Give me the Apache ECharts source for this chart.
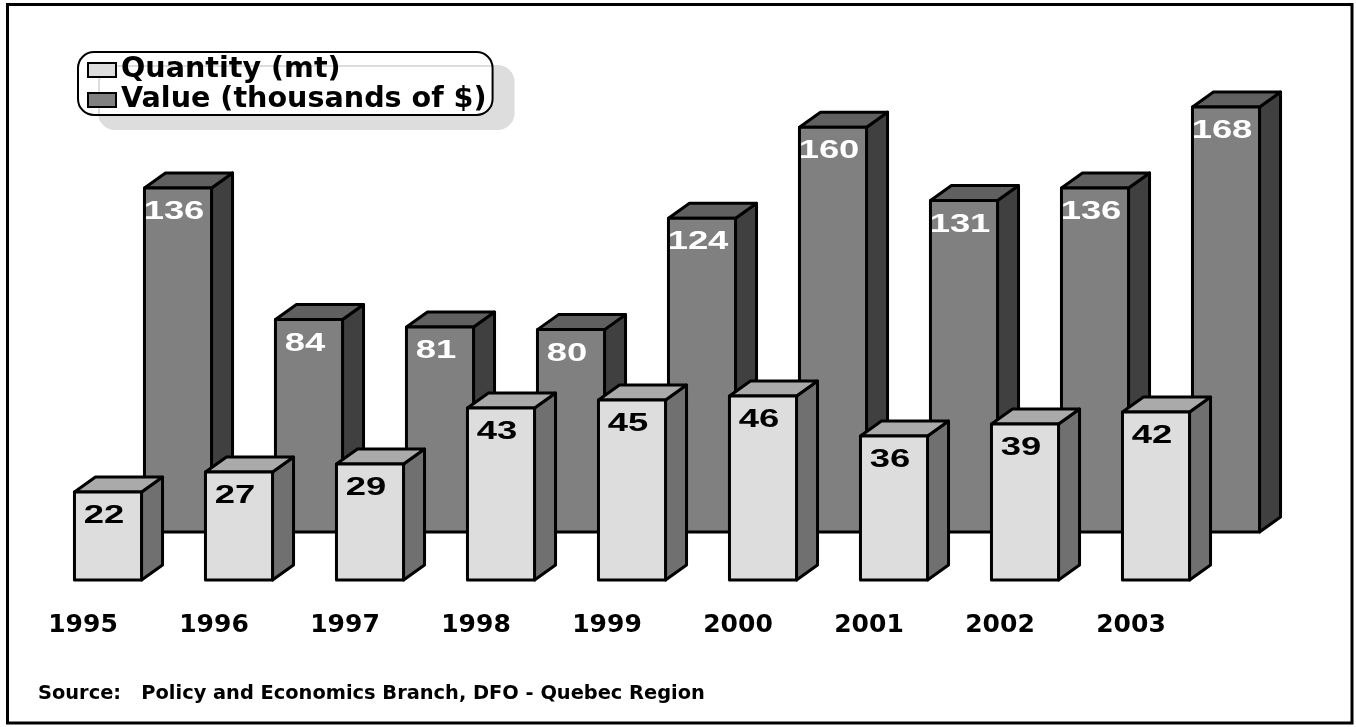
<!DOCTYPE html>
<html>
<head>
<meta charset="utf-8">
<script src="https://cdn.jsdelivr.net/npm/echarts@6/dist/echarts.min.js"></script>
<style>
html,body{margin:0;padding:0;background:#fff;}
#chart{width:1356px;height:727px;}
</style>
</head>
<body>
<div id="chart"></div>
<script>
// ---- data ----
const years = ['1995','1996','1997','1998','1999','2000','2001','2002','2003'];
const quantity = [22, 27, 29, 43, 45, 46, 36, 39, 42];
const value = [136, 84, 81, 80, 124, 160, 131, 136, 168];
const seriesNames = ['Quantity (mt)', 'Value (thousands of $)'];
const sourceText = 'Source:   Policy and Economics Branch, DFO - Quebec Region';

// ---- style ----
const BAR_RATIO = 0.512;
const DX = 21, DY = -15;
const qtyColors = {front:'#DDDDDD', top:'#AAAAAA', side:'#707070'};
const valColors = {front:'#808080', top:'#606060', side:'#404040'};

function makeRender(colors, labelColor) {
  return function (params, api) {
    const i = api.value(0), v = api.value(1);
    const t = api.coord([i, v]);
    const b = api.coord([i, 0]);
    const w = api.size([1, 0])[0] * BAR_RATIO;
    const l = t[0] - w / 2, r = t[0] + w / 2, top = t[1], bot = b[1];
    const st = {stroke:'#000', lineWidth:3, lineJoin:'round'};
    return {
      type:'group',
      children:[
        {type:'polygon', shape:{points:[[r,top],[r+DX,top+DY],[r+DX,bot+DY],[r,bot]]}, style:Object.assign({fill:colors.side}, st)},
        {type:'polygon', shape:{points:[[l,top],[l+DX,top+DY],[r+DX,top+DY],[r,top]]}, style:Object.assign({fill:colors.top}, st)},
        {type:'rect', shape:{x:l, y:top, width:w, height:bot-top}, style:Object.assign({fill:colors.front}, st)},
        {type:'text', x:t[0]-4, y:top+24, scaleX:1.4, scaleY:1,
          style:{text:String(v), fill:labelColor, fontFamily:'Liberation Sans', fontWeight:'bold', fontSize:26,
                 textAlign:'center', textVerticalAlign:'middle'}}
      ]
    };
  };
}

const chart = echarts.init(document.getElementById('chart'), null, {renderer:'canvas'});
const option = {
  animation:false,
  backgroundColor:'#ffffff',
  title:{
    text:sourceText, left:38, top:684, padding:0,
    textStyle:{fontFamily:'DejaVu Sans', fontWeight:'bold', fontSize:19.4, color:'#000'}
  },
  legend:{
    orient:'vertical', left:78, top:52,
    padding:[3, 6, 0, 9],
    itemWidth:28, itemHeight:14, itemGap:0, itemTextGap:14,
    backgroundColor:'#ffffff', borderColor:'#000', borderWidth:2, borderRadius:16,
    shadowColor:'#DDDDDD', shadowBlur:0, shadowOffsetX:21, shadowOffsetY:14,
    textStyle:{fontFamily:'DejaVu Sans', fontWeight:'bold', fontSize:28.6, lineHeight:30, color:'#000'},
    data:[
      {name:seriesNames[0], icon:'rect', itemStyle:{color:qtyColors.front, borderColor:'#000', borderWidth:2}},
      {name:seriesNames[1], icon:'rect', itemStyle:{color:valColors.front, borderColor:'#000', borderWidth:2}}
    ]
  },
  grid:[
    {left:42.5, width:1179, top:180, height:400},
    {left:112.5, width:1179, top:26, height:506}
  ],
  xAxis:[
    {type:'category', gridIndex:0, data:years, boundaryGap:true,
     axisLine:{show:false}, axisTick:{show:false}, splitLine:{show:false},
     axisLabel:{margin:33, padding:[0,50,0,0], fontFamily:'DejaVu Sans', fontWeight:'bold', fontSize:25, color:'#000'}},
    {type:'category', gridIndex:1, data:years, boundaryGap:true, show:false}
  ],
  yAxis:[
    {type:'value', gridIndex:0, min:0, max:100, show:false},
    {type:'value', gridIndex:1, min:0, max:200, show:false}
  ],
  graphic:[
    {type:'rect', silent:true, z:100, shape:{x:7.5, y:4.5, width:1344.5, height:718.5},
     style:{fill:'none', stroke:'#000', lineWidth:3}}
  ],
  series:[
    {type:'custom', name:seriesNames[1], xAxisIndex:1, yAxisIndex:1, z:2,
     itemStyle:{color:valColors.front}, encode:{x:0, y:1},
     renderItem:makeRender(valColors, '#ffffff'),
     data:value.map((v, i) => [i, v])},
    {type:'custom', name:seriesNames[0], xAxisIndex:0, yAxisIndex:0, z:3,
     itemStyle:{color:qtyColors.front}, encode:{x:0, y:1},
     renderItem:makeRender(qtyColors, '#000000'),
     data:quantity.map((v, i) => [i, v])}
  ]
};
chart.setOption(option);
</script>
</body>
</html>
